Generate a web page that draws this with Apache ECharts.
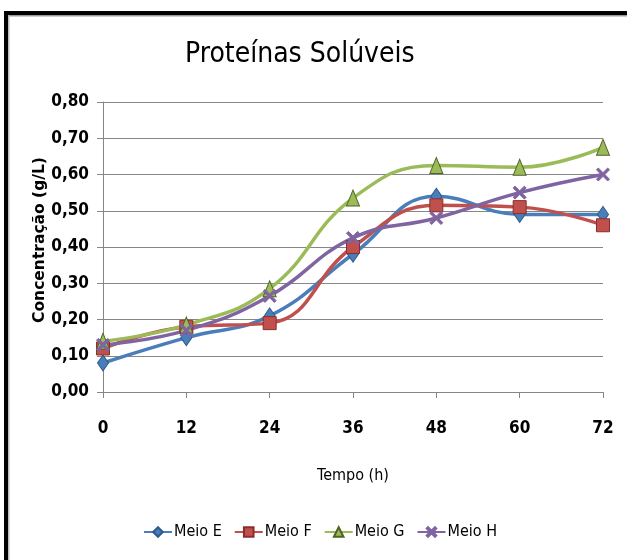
<!DOCTYPE html>
<html><head><meta charset="utf-8">
<script src="https://cdn.jsdelivr.net/npm/echarts@6/dist/echarts.min.js"></script>
<style>html,body{margin:0;padding:0;background:#fff}#c{width:627px;height:560px}</style>
</head><body><div id="c"></div>
<script>
const categories = ["0","12","24","36","48","60","72"];
const meioE = [0.08, 0.15, 0.21, 0.38, 0.54, 0.49, 0.49];
const meioF = [0.12, 0.18, 0.19, 0.40, 0.515, 0.51, 0.46];
const meioG = [0.14, 0.185, 0.285, 0.535, 0.625, 0.62, 0.675];
const meioH = [0.13, 0.17, 0.265, 0.425, 0.48, 0.55, 0.60];
const yTicks = [0, 0.1, 0.2, 0.3, 0.4, 0.5, 0.6, 0.7, 0.8];

const FONT = '"DejaVu Sans Condensed", "Liberation Sans", sans-serif';
const xPath = 'path://M0,1.4L1.4,0L5,3.6L8.6,0L10,1.4L6.4,5L10,8.6L8.6,10L5,6.4L1.4,10L0,8.6L3.6,5Z';

function mk(name, data, color, dark, symbol, size) {
  return {
    name, type: 'line', data, smooth: 0.45,
    symbol, symbolSize: size,
    lineStyle: { color, width: 3.5 },
    itemStyle: { color, borderColor: dark, borderWidth: 1 },
    emphasis: { disabled: true }
  };
}

const chart = echarts.init(document.getElementById('c'), null, { renderer: 'canvas' });
chart.setOption({
  animation: false,
  backgroundColor: '#fff',
  title: {
    text: 'Proteínas Solúveis', left: 180, top: 36,
    textStyle: { fontFamily: FONT, fontSize: 28, fontWeight: 'normal', color: '#000' }
  },
  legend: {
    bottom: 15, left: 138, itemWidth: 28, itemHeight: 12, itemGap: 12,
    textStyle: { fontFamily: FONT, fontSize: 16, color: '#000', padding: [0, 0, 0, -3] },
    data: ['Meio E', 'Meio F', 'Meio G', 'Meio H']
  },
  grid: { left: 103, right: 24, top: 102, bottom: 168 },
  xAxis: {
    type: 'category', data: categories, boundaryGap: false,
    name: 'Tempo (h)', nameLocation: 'middle', nameGap: 76,
    nameTextStyle: { fontFamily: FONT, fontSize: 16, color: '#000' },
    axisLine: { lineStyle: { color: '#868686', width: 1 } },
    axisTick: { show: true, length: 6, lineStyle: { color: '#868686' } },
    axisLabel: { fontFamily: FONT, fontSize: 17, fontWeight: 'bold', color: '#000', margin: 28 }
  },
  yAxis: {
    type: 'value', min: 0, max: 0.8, interval: 0.1,
    name: 'Concentração (g/L)', nameLocation: 'middle', nameGap: 55, nameMoveOverlap: false,
    nameTextStyle: { fontFamily: '"DejaVu Sans", "Liberation Sans", sans-serif', fontSize: 15.5, fontWeight: 'bold', color: '#000', padding: [0, 0, 0, 14] },
    axisLine: { show: true, lineStyle: { color: '#868686', width: 1 } },
    axisTick: { show: true, length: 6, lineStyle: { color: '#868686' } },
    splitLine: { lineStyle: { color: '#868686', width: 1 } },
    axisLabel: {
      fontFamily: FONT, fontSize: 17, fontWeight: 'bold', color: '#000', margin: 14,
      formatter: v => v.toFixed(2).replace('.', ',')
    }
  },
  series: [
    mk('Meio E', meioE, '#4A7EBB', '#2C5A8C', 'diamond', [11, 16]),
    mk('Meio F', meioF, '#C0504D', '#8B2E2B', 'rect', 13),
    mk('Meio G', meioG, '#9BBB59', '#4F6228', 'triangle', [13, 16]),
    mk('Meio H', meioH, '#8064A2', '#8064A2', xPath, 13)
  ],
  graphic: [
    { type: 'rect', shape: { x: 4, y: 11, width: 623, height: 4 }, style: { fill: '#000' } },
    { type: 'rect', shape: { x: 4, y: 11, width: 4, height: 549 }, style: { fill: '#000' } },
    { type: 'rect', shape: { x: 8, y: 15, width: 619, height: 1.5 }, style: { fill: '#999' } },
    { type: 'rect', shape: { x: 8, y: 15, width: 1.5, height: 545 }, style: { fill: '#bbb' } }
  ]
});
</script></body></html>
